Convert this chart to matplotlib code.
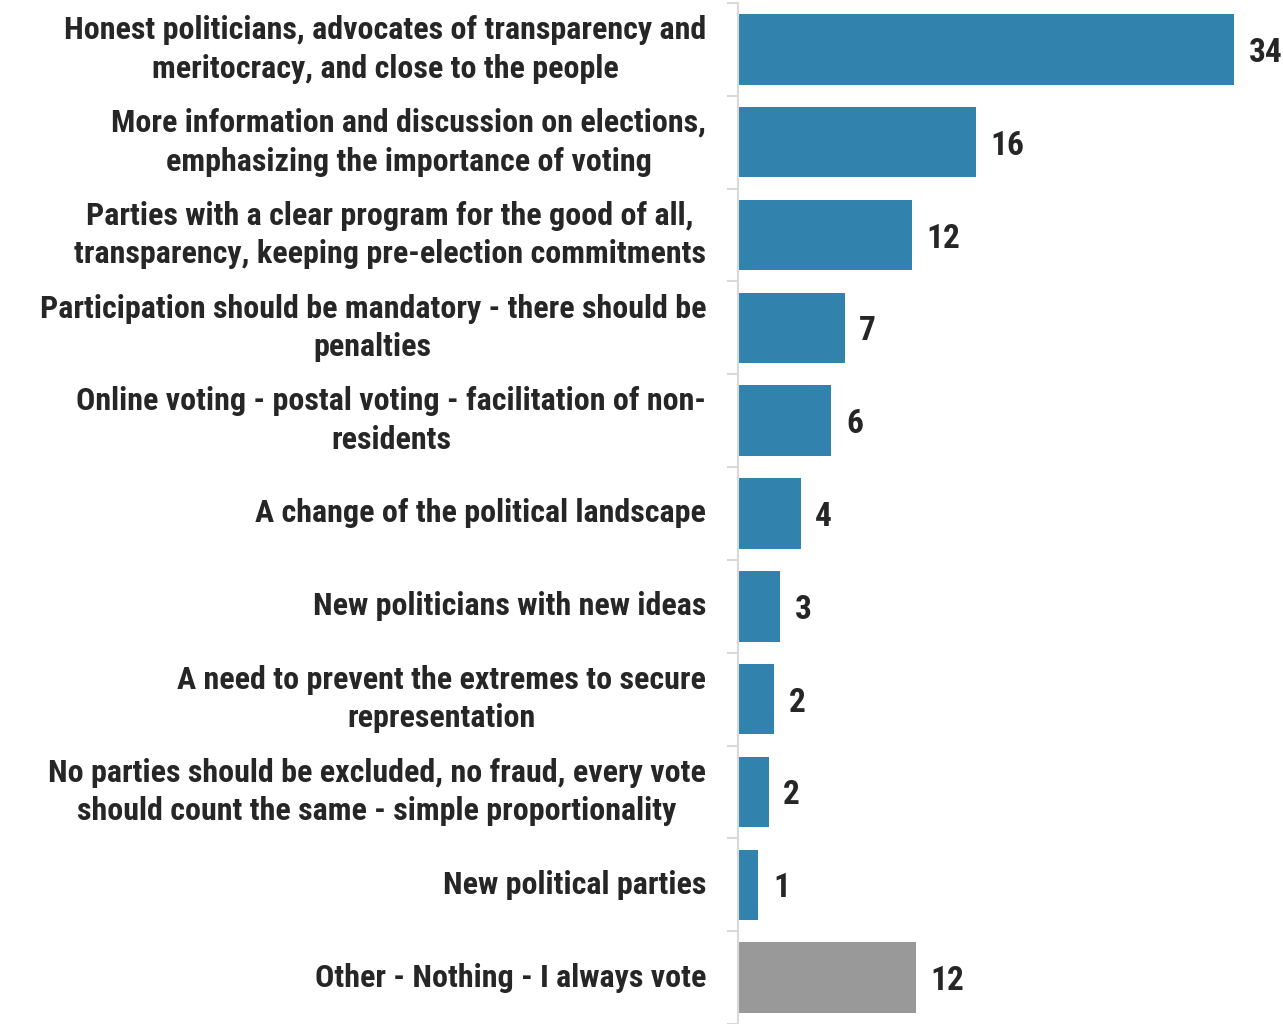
import matplotlib.pyplot as plt
from matplotlib import font_manager

categories = [
    'Honest politicians, advocates of transparency and\nmeritocracy, and close to the people',
    'More information and discussion on elections,\nemphasizing the importance of voting',
    'Parties with a clear program for the good of all,\ntransparency, keeping pre-election commitments',
    'Participation should be mandatory - there should be\npenalties',
    'Online voting - postal voting - facilitation of non-\nresidents',
    'A change of the political landscape',
    'New politicians with new ideas',
    'A need to prevent the extremes to secure\nrepresentation',
    'No parties should be excluded, no fraud, every vote\nshould count the same - simple proportionality',
    'New political parties',
    'Other - Nothing - I always vote',
]
values = [34.0, 16.3, 11.9, 7.3, 6.4, 4.3, 2.9, 2.5, 2.1, 1.4, 12.2]
value_labels = ['34', '16', '12', '7', '6', '4', '3', '2', '2', '1', '12']
colors = ['#3182ac'] * 10 + ['#999999']

# pick a bold narrow face close to Arial Narrow Bold
names = {f.name for f in font_manager.fontManager.ttflist}
fam = 'DejaVu Sans'
for cand in ['Liberation Sans Narrow', 'Arial Narrow', 'Roboto Condensed',
             'Asap Condensed', 'Barlow Semi Condensed']:
    if cand in names:
        fam = cand
        break
plt.rcParams['font.family'] = [fam, 'DejaVu Sans']
plt.rcParams['font.weight'] = 'bold'
txt = '#262626'

fig = plt.figure(figsize=(12.83, 10.24), dpi=100)
ax = fig.add_axes([738 / 1283, 0, 1 - 738 / 1283, 1 - 3 / 1024])

y = list(range(len(categories)))
ax.barh(y, values, height=0.76, color=colors)
ax.set_ylim(len(categories) - 0.5, -0.5)
ax.set_xlim(0, 37.35)

for yi, v, lab in zip(y, values, value_labels):
    ax.text(v + 1.0, yi, lab, va='center_baseline', ha='left', fontsize=24,
            fontweight='bold', color=txt)

ax.set_yticks(y)
ax.set_yticklabels(categories, fontsize=23, fontweight='bold', color=txt,
                   linespacing=1.36, ha='right', va='center')
for t in ax.get_yticklabels():
    t.set_multialignment('center')
ax.tick_params(axis='y', length=0, pad=23)
ax.set_yticks([i - 0.5 for i in range(len(categories) + 1)], minor=True)
ax.tick_params(axis='y', which='minor', length=8, color='#d9d9d9', width=1.5)
ax.set_xticks([])
for s in ['top', 'right', 'bottom']:
    ax.spines[s].set_visible(False)
ax.spines['left'].set_color('#d9d9d9')
ax.spines['left'].set_linewidth(1.5)

fig.savefig('out.png', dpi=100)
